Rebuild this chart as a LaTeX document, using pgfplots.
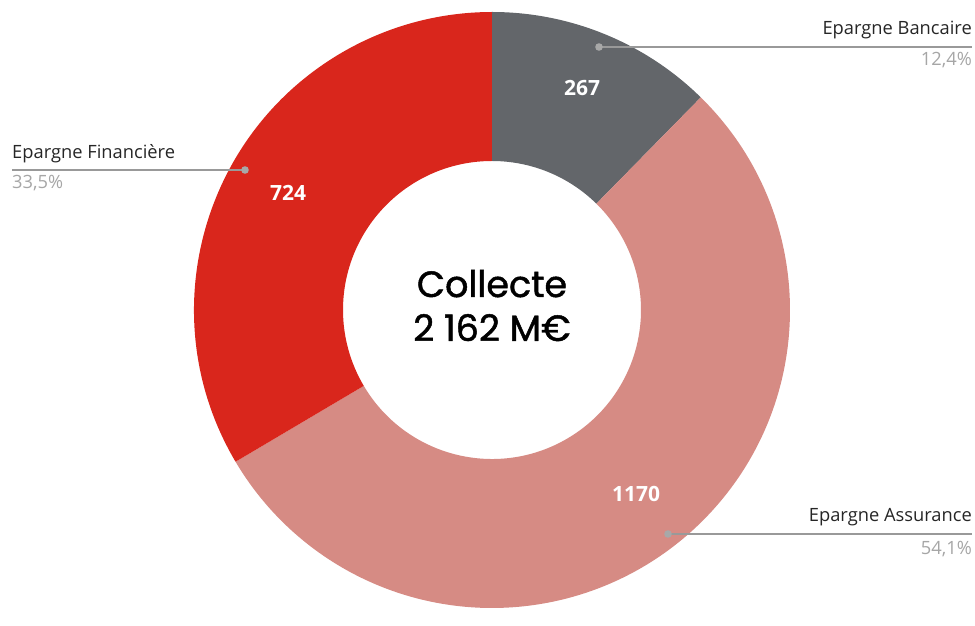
\documentclass[border=0pt]{standalone}
\usepackage{fontspec}
\setmainfont{Open Sans}
\newfontfamily\pop{Poppins}[FakeBold=1.3]
\usepackage{pgfplots}
\usepackage{pgfplotstable}
\pgfplotsset{compat=1.18}
\definecolor{cBan}{HTML}{63666A}
\definecolor{cAss}{HTML}{D68B84}
\definecolor{cFin}{HTML}{D9261C}
\definecolor{ctxt}{HTML}{262626}
\definecolor{cpct}{HTML}{A6A6A6}
\definecolor{cline}{HTML}{999999}
\pgfplotstableread{
value col
267 cBan
1170 cAss
724 cFin
}\data
\begin{document}
\begin{tikzpicture}
\begin{axis}[x=1pt,y=1pt,xmin=0,xmax=975,ymin=0,ymax=608,hide axis,clip=false]
\path (axis cs:0,0) (axis cs:975,608);
\pgfplotsextra{
  \gdef\tot{0}
  \foreach \i in {0,1,2}{%
    \pgfplotstablegetelem{\i}{value}\of\data
    \pgfmathsetmacro\t{\tot+\pgfplotsretval}\xdef\tot{\t}}
  \gdef\acc{90}
  \foreach \i in {0,1,2}{%
    \pgfplotstablegetelem{\i}{value}\of\data \edef\v{\pgfplotsretval}
    \pgfplotstablegetelem{\i}{col}\of\data \edef\c{\pgfplotsretval}
    \pgfmathsetmacro\a{\acc}
    \pgfmathsetmacro\fr{\v/\tot}
    \pgfmathsetmacro\b{\acc-360*\fr}
    \pgfmathsetmacro\bb{\b+180}
    \fill[\c] (axis cs:492,298) ++(\a:298pt) arc[start angle=\a,end angle=\b,radius=298pt]
      -- ++(\bb:149pt) arc[start angle=\b,end angle=\a,radius=149pt] -- cycle;
    \xdef\acc{\b}
  }
}
% leader lines
\draw[cline,line width=1.8pt] (axis cs:599,561) -- (axis cs:972,561);
\fill[cline!85] (axis cs:599,561) circle[radius=3.8pt];
\draw[cline,line width=1.8pt] (axis cs:245,438) -- (axis cs:12,438);
\fill[cline!85] (axis cs:245,438) circle[radius=3.8pt];
\draw[cline,line width=1.8pt] (axis cs:668,74) -- (axis cs:972,74);
\fill[cline!85] (axis cs:668,74) circle[radius=3.8pt];
% labels
\begin{scope}[every node/.style={inner sep=0pt,font=\fontsize{18.3}{22}\selectfont}]
\node[anchor=base east,ctxt] at (axis cs:972,573) {Epargne Bancaire};
\node[anchor=base east,cpct] at (axis cs:972,542) {12,4\%};
\node[anchor=base west,ctxt] at (axis cs:12,449) {Epargne Financière};
\node[anchor=base west,cpct] at (axis cs:12,419) {33,5\%};
\node[anchor=base east,ctxt] at (axis cs:972,86) {Epargne Assurance};
\node[anchor=base east,cpct] at (axis cs:972,53) {54,1\%};
\end{scope}
\begin{scope}[every node/.style={inner sep=0pt,white,font=\fontsize{21}{24}\selectfont\bfseries}]
\node at (axis cs:582,520) {267};
\node at (axis cs:288,415) {724};
\node at (axis cs:636,114) {1170};
\end{scope}
\node[anchor=base,font=\pop\fontsize{36.5}{40}\selectfont] at (axis cs:492,311) {Collecte};
\node[anchor=base,font=\pop\fontsize{36.5}{40}\selectfont] at (axis cs:492,267) {2 162 M€};
\end{axis}
\end{tikzpicture}
\end{document}
